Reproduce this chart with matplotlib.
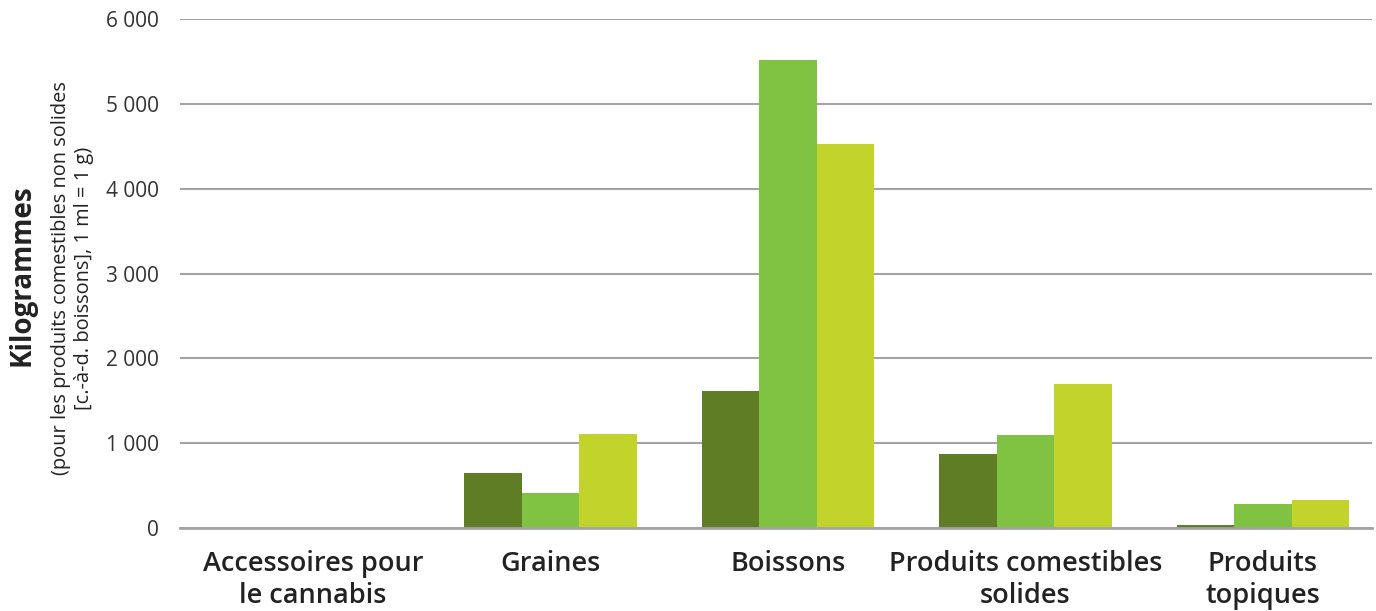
#!/usr/bin/env python3
"""Grouped bar chart: kilograms per cannabis product class (three periods)."""

import matplotlib
matplotlib.use('Agg')
import matplotlib.pyplot as plt
from matplotlib.ticker import FuncFormatter
import numpy as np

categories = ['Accessoires pour\nle cannabis', 'Graines', 'Boissons',
              'Produits comestibles\nsolides', 'Produits\ntopiques']
series_a = [0, 650, 1615, 873, 35]
series_b = [0, 413, 5520, 1097, 283]
series_c = [0, 1108, 4528, 1698, 330]
colors = ['#5e7d24', '#80c241', '#c2d32b']
y_ticks = [0, 1000, 2000, 3000, 4000, 5000, 6000]

plt.rcParams['font.family'] = ['Open Sans', 'DejaVu Sans']

fig = plt.figure(figsize=(13.76, 6.11), dpi=100)
ax = fig.add_axes([180 / 1376, 83 / 611, 1192 / 1376, 509 / 611])

x = np.arange(len(categories))
width = 0.242
for i, (vals, col) in enumerate(zip([series_a, series_b, series_c], colors)):
    ax.bar(x + (i - 1) * width, vals, width, color=col, zorder=3)

ax.set_xlim(-0.56, 4.46)
ax.set_ylim(0, 6000)
ax.set_yticks(y_ticks)
ax.yaxis.set_major_formatter(FuncFormatter(lambda v, p: f'{int(v):,}'.replace(',', ' ')))
ax.grid(axis='y', color='#a3a3a6', linewidth=1.5, zorder=0)
ax.set_axisbelow(True)

for s in ['top', 'right', 'left']:
    ax.spines[s].set_visible(False)
ax.spines['bottom'].set_color('#a3a3a6')
ax.spines['bottom'].set_linewidth(2)
ax.spines['bottom'].set_zorder(4)

ax.tick_params(axis='y', length=0, pad=15, labelsize=15, labelcolor='#333333')
ax.tick_params(axis='x', length=0, pad=16, labelsize=19.5, labelcolor='#222222')
ax.set_xticks(x)
ax.set_xticklabels(categories, fontweight='semibold', linespacing=1.18)

# y axis title, two parts
fig.text(22 / 1376, 1 - 275 / 611, 'Kilogrammes', rotation=90, ha='center', va='center',
         fontsize=20, fontweight='bold', color='#222222')
fig.text(73 / 1376, 1 - 278 / 611,
         '(pour les produits comestibles non solides\n[c.-à-d. boissons], 1 ml = 1 g)',
         rotation=90, ha='center', va='center', fontsize=14.4, color='#222222',
         linespacing=1.2, multialignment='center')

fig.savefig('out.png', dpi=100)
